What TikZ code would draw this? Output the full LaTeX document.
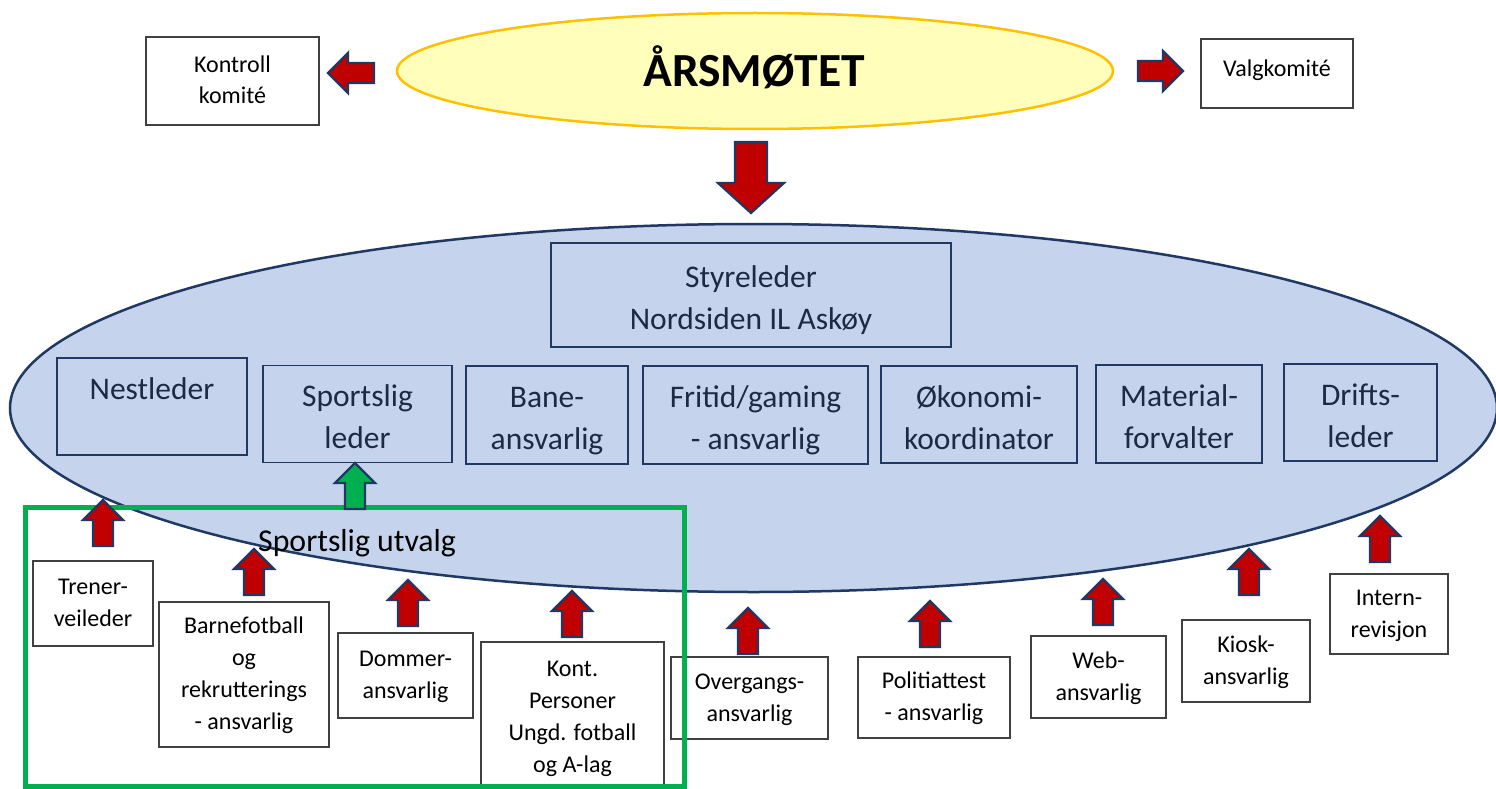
\documentclass[tikz,border=0pt]{standalone}
\usepackage{fontspec}
\setmainfont{Carlito}
\usetikzlibrary{shapes.geometric}
\definecolor{ellfill}{RGB}{197,211,236}
\definecolor{navy}{RGB}{31,56,100}
\definecolor{yfill}{RGB}{255,255,187}
\definecolor{yline}{RGB}{255,192,0}
\definecolor{arrred}{RGB}{192,0,0}
\definecolor{arrgreen}{RGB}{0,176,80}
\definecolor{innertext}{RGB}{30,42,68}
\definecolor{boxline}{RGB}{64,64,64}
\newcommand\bxtopS{\rule{0pt}{19pt}}
\newcommand\bxbotS{\rule[-5pt]{0pt}{5pt}}
\newcommand\bxtopI{\rule{0pt}{41pt}}
\newcommand\bxbotI{\rule[-14pt]{0pt}{14pt}}
\begin{document}
\begin{tikzpicture}[x=1pt,y=-1pt,
  smallbox/.style={draw=boxline, line width=1.3pt, fill=white, align=center, inner sep=0pt,
    font=\fontsize{24}{32}\selectfont},
  innerbox/.style={draw=navy, line width=1.2pt, align=center, inner sep=0pt, text=innertext,
    font=\fontsize{31.5}{42}\selectfont},
  blockarrow/.style={draw=navy, line width=2.2pt, line join=miter},
  pics/uparr/.style={code={\filldraw[blockarrow, fill=#1] (0,0) -- (20,20) -- (10,20) -- (10,46) -- (-10,46) -- (-10,20) -- (-20,20) -- cycle;}},
]
\fill[white] (0,0) rectangle (1496,789);
\useasboundingbox (0,0) rectangle (1496,789);

% top level
\node[ellipse, draw=yline, fill=yfill, line width=2.5pt, minimum width=716pt, minimum height=116pt, inner sep=0pt] (arsmote) at (755,71) {};
\node[anchor=base, font=\fontsize{47.5}{50}\bfseries] (arsmotetxt) at (754,87) {ÅRSMØTET};

\node[smallbox, minimum width=173pt, minimum height=88pt] (kontroll) at (232.5,81) {\bxtopS Kontroll\\komité\bxbotS};
\node[smallbox, minimum width=152pt, minimum height=69pt] (valg) at (1277,73.5) {};
\node[font=\fontsize{24}{32}\selectfont] (valgtxt) at (1277,70) {Valgkomité};

\filldraw[blockarrow, fill=arrred] (328,73) -- (348,53) -- (348,63) -- (374,63) -- (374,83) -- (348,83) -- (348,93) -- cycle;
\filldraw[blockarrow, fill=arrred] (1183,71) -- (1163,51) -- (1163,61) -- (1138,61) -- (1138,81) -- (1163,81) -- (1163,91) -- cycle;
\filldraw[blockarrow, fill=arrred] (735,142) -- (767,142) -- (767,183) -- (784,183) -- (751,213) -- (718,183) -- (735,183) -- cycle;

% board ellipse
\node[ellipse, draw=navy, fill=ellfill, line width=2.5pt, minimum width=1487pt, minimum height=368pt, inner sep=0pt] (styret) at (753.5,408) {};

\node[innerbox, minimum width=400pt, minimum height=104pt] (styreleder) at (751,295) {\bxtopI Styreleder\\Nordsiden IL Askøy\bxbotI};
\node[innerbox, minimum width=190pt, minimum height=97pt] (nestleder) at (152,406.5) {\bxtopI Nestleder\\\bxbotI};
\node[innerbox, minimum width=189pt, minimum height=96pt] (sportslig) at (357.5,414) {\bxtopI Sportslig\\leder\bxbotI};
\node[innerbox, minimum width=162pt, minimum height=98pt] (bane) at (547,415) {\bxtopI Bane-\\ansvarlig\bxbotI};
\node[innerbox, minimum width=225pt, minimum height=98pt] (fritid) at (755.5,415) {\bxtopI Fritid/gaming\\- ansvarlig\bxbotI};
\node[innerbox, minimum width=196pt, minimum height=97pt] (okonomi) at (979,414.5) {\bxtopI Økonomi-\\koordinator\bxbotI};
\node[innerbox, minimum width=166pt, minimum height=98pt] (material) at (1179,414) {\bxtopI Material-\\forvalter\bxbotI};
\node[innerbox, minimum width=153pt, minimum height=95pt] (drifts) at (1360.5,412.5) {\bxtopI Drifts-\\leder\bxbotI};

% lower boxes
\node[smallbox, minimum width=120pt, minimum height=85pt] (trener) at (93,603.5) {\bxtopS Trener-\\veileder\bxbotS};
\node[smallbox, minimum width=170pt, minimum height=145pt] (barne) at (244,674.5) {\bxtopS Barnefotball\\og\\rekrutterings\\- ansvarlig\bxbotS};
\node[smallbox, minimum width=135pt, minimum height=85pt] (dommer) at (405.5,675.5) {\bxtopS Dommer-\\ansvarlig\bxbotS};
\node[smallbox, minimum width=183pt, minimum height=150pt] (kont) at (572.5,717) {\bxtopS Kont.\\Personer\\Ungd. fotball\\og A-lag\bxbotS};
\node[smallbox, minimum width=157pt, minimum height=82pt] (overgangs) at (749.5,698) {\bxtopS Overgangs-\\ansvarlig\bxbotS};
\node[smallbox, minimum width=152pt, minimum height=81pt] (politi) at (934,697.5) {\bxtopS Politiattest\\- ansvarlig\bxbotS};
\node[smallbox, minimum width=135pt, minimum height=82pt] (web) at (1098.5,677) {\bxtopS Web-\\ansvarlig\bxbotS};
\node[smallbox, minimum width=128pt, minimum height=82pt] (kiosk) at (1246,661) {\bxtopS Kiosk-\\ansvarlig\bxbotS};
\node[smallbox, minimum width=118pt, minimum height=80pt] (intern) at (1389,614) {\bxtopS Intern-\\revisjon\bxbotS};

% sportslig utvalg frame
\draw[arrgreen, line width=5pt] (25,507) rectangle (684,786);
\node[anchor=base west, font=\fontsize{31.8}{36}\selectfont, inner sep=0pt] (utvalg) at (258,551) {Sportslig utvalg};

% up arrows
\pic at (355,463) {uparr=arrgreen};
\pic at (103,500) {uparr=arrred};
\pic at (254,549) {uparr=arrred};
\pic at (408,580) {uparr=arrred};
\pic at (572,591) {uparr=arrred};
\pic at (748,608) {uparr=arrred};
\pic at (930,601) {uparr=arrred};
\pic at (1103,579) {uparr=arrred};
\pic at (1249,549) {uparr=arrred};
\pic at (1380,516) {uparr=arrred};
\end{tikzpicture}
\end{document}
